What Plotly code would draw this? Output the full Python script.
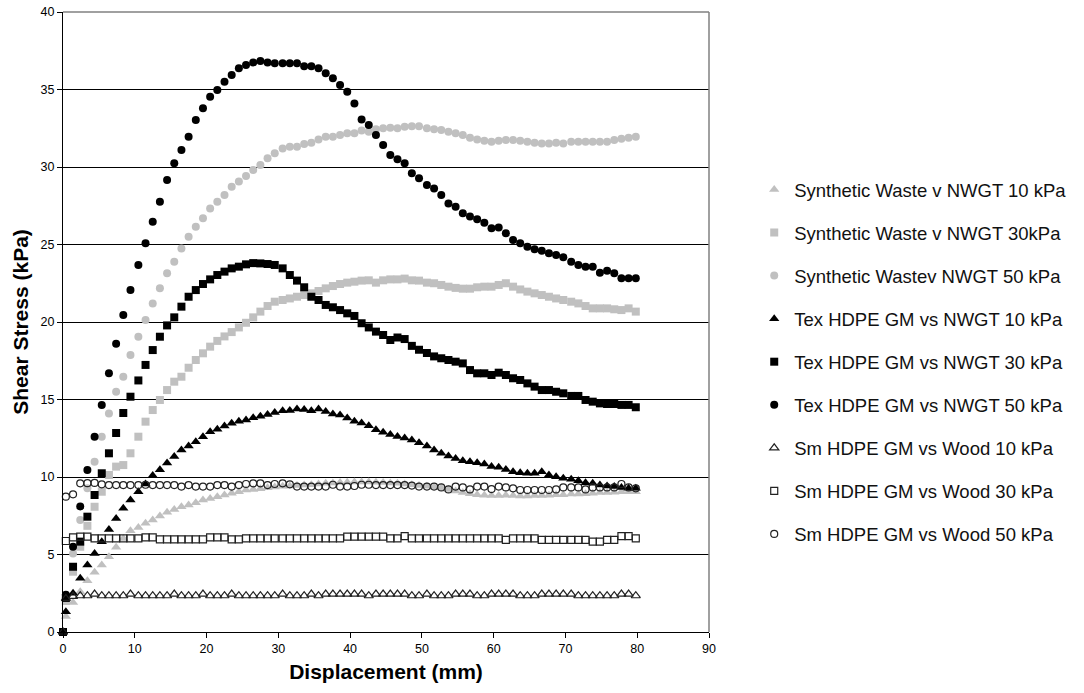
import plotly.graph_objects as go

# Displacement (mm) at each reading; first reading is the zero point
displacement = [0,
    0.4, 1.4, 2.4, 3.4, 4.4, 5.4, 6.4, 7.4, 8.4, 9.4,
    10.5, 11.5, 12.5, 13.5, 14.5, 15.5, 16.5, 17.5, 18.5, 19.5,
    20.5, 21.5, 22.5, 23.5, 24.5, 25.5, 26.5, 27.5, 28.5, 29.5,
    30.6, 31.6, 32.6, 33.6, 34.6, 35.6, 36.6, 37.6, 38.6, 39.6,
    40.6, 41.6, 42.6, 43.6, 44.6, 45.6, 46.6, 47.6, 48.6, 49.6,
    50.7, 51.7, 52.7, 53.7, 54.7, 55.7, 56.7, 57.7, 58.7, 59.7,
    60.7, 61.7, 62.7, 63.7, 64.7, 65.7, 66.7, 67.7, 68.7, 69.7,
    70.8, 71.8, 72.8, 73.8, 74.8, 75.8, 76.8, 77.8, 78.8, 79.8]

# Shear stress (kPa)
sw_nwgt_10 = [0,
    1.0, 1.9, 2.6, 3.31, 3.85, 4.32, 4.86, 5.46, 6.04, 6.54,
    6.75, 7.01, 7.23, 7.48, 7.72, 7.91, 8.08, 8.19, 8.34, 8.52,
    8.62, 8.73, 8.84, 8.95, 9.05, 9.16, 9.2, 9.25, 9.3, 9.35,
    9.4, 9.42, 9.45, 9.48, 9.5, 9.55, 9.6, 9.62, 9.65, 9.66,
    9.68, 9.68, 9.68, 9.66, 9.65, 9.62, 9.6, 9.55, 9.5, 9.45,
    9.4, 9.35, 9.3, 9.2, 9.1, 9.0, 8.92, 8.85, 8.82, 8.8,
    8.8, 8.82, 8.8, 8.78, 8.78, 8.8, 8.8, 8.82, 8.85, 8.85,
    8.9, 8.9, 8.92, 8.95, 9.0, 9.0, 9.02, 9.05, 9.05, 9.05]

sw_nwgt_30 = [0,
    2.0, 3.89, 5.5, 6.85, 8.08, 9.05, 10.13, 10.67, 10.77, 11.53,
    12.6, 13.57, 14.32, 14.97, 15.61, 16.15, 16.47, 17.05, 17.55, 17.98,
    18.41, 18.78, 19.07, 19.35, 19.65, 19.95, 20.3, 20.67, 21.03, 21.31,
    21.42, 21.52, 21.63, 21.74, 21.85, 22.0, 22.17, 22.32, 22.45, 22.54,
    22.6, 22.67, 22.69, 22.54, 22.69, 22.75, 22.75, 22.8, 22.69, 22.67,
    22.54, 22.5, 22.39, 22.28, 22.2, 22.15, 22.15, 22.24, 22.28, 22.28,
    22.39, 22.5, 22.28, 22.1, 21.96, 21.85, 21.74, 21.63, 21.52, 21.42,
    21.31, 21.2, 21.03, 20.88, 20.88, 20.88, 20.82, 20.77, 20.88, 20.67]

sw_nwgt_50 = [0,
    2.2, 5.07, 7.23, 9.27, 10.99, 12.6, 14.1, 15.5, 16.47, 17.87,
    19.05, 20.13, 21.2, 22.17, 23.14, 23.89, 24.75, 25.5, 26.15, 26.69,
    27.33, 27.76, 28.19, 28.73, 29.06, 29.42, 29.81, 30.13, 30.56, 30.88,
    31.2, 31.31, 31.31, 31.48, 31.57, 31.78, 31.95, 31.95, 32.06, 32.17,
    32.17, 32.36, 32.28, 32.43, 32.5, 32.54, 32.5, 32.6, 32.63, 32.63,
    32.5, 32.43, 32.39, 32.28, 32.17, 32.06, 31.89, 31.78, 31.7, 31.63,
    31.7, 31.74, 31.74, 31.7, 31.63, 31.57, 31.52, 31.52, 31.57, 31.52,
    31.63, 31.63, 31.63, 31.63, 31.63, 31.63, 31.74, 31.83, 31.89, 31.95]

tex_nwgt_10 = [0,
    1.3, 2.5, 3.46, 4.32, 5.07, 5.83, 6.62, 7.33, 7.98, 8.52,
    9.05, 9.55, 10.1, 10.47, 10.9, 11.33, 11.74, 12.0, 12.28, 12.6,
    12.92, 13.08, 13.29, 13.46, 13.6, 13.68, 13.82, 13.92, 14.03, 14.16,
    14.27, 14.29, 14.38, 14.35, 14.27, 14.38, 14.22, 14.06, 14.0, 13.8,
    13.6, 13.48, 13.3, 13.05, 12.89, 12.74, 12.62, 12.52, 12.39, 12.21,
    12.0, 11.74, 11.53, 11.35, 11.2, 11.05, 10.99, 10.92, 10.84, 10.67,
    10.63, 10.49, 10.34, 10.28, 10.24, 10.24, 10.34, 10.13, 10.02, 9.92,
    9.85, 9.76, 9.63, 9.59, 9.48, 9.42, 9.38, 9.33, 9.27, 9.27]

tex_nwgt_30 = [0,
    2.2, 4.21, 5.83, 7.44, 8.84, 10.24, 11.53, 12.84, 14.13, 15.18,
    16.23, 17.23, 18.19, 19.05, 19.78, 20.3, 20.99, 21.63, 22.06, 22.45,
    22.75, 23.03, 23.25, 23.46, 23.57, 23.72, 23.8, 23.78, 23.74, 23.68,
    23.46, 23.03, 22.67, 22.24, 21.63, 21.42, 21.1, 20.95, 20.77, 20.56,
    20.39, 19.92, 19.65, 19.38, 19.16, 18.84, 19.0, 18.9, 18.46, 18.21,
    18.0, 17.78, 17.66, 17.55, 17.44, 17.33, 16.9, 16.69, 16.69, 16.58,
    16.73, 16.58, 16.37, 16.26, 16.04, 15.83, 15.61, 15.61, 15.5, 15.4,
    15.23, 15.23, 14.97, 14.86, 14.75, 14.71, 14.71, 14.65, 14.65, 14.5]

tex_nwgt_50 = [None,
    2.4, 5.5, 8.1, 10.45, 12.6, 14.65, 16.7, 18.6, 20.45, 22.06,
    23.68, 25.08, 26.47, 27.76, 29.16, 30.24, 31.1, 31.95, 33.03, 33.79,
    34.54, 34.97, 35.5, 35.94, 36.37, 36.58, 36.75, 36.84, 36.75, 36.69,
    36.69, 36.69, 36.69, 36.5, 36.5, 36.37, 36.05, 35.72, 35.29, 34.86,
    34.1, 33.07, 32.71, 32.06, 31.42, 30.77, 30.5, 30.24, 29.59, 29.27,
    28.84, 28.62, 28.19, 27.65, 27.44, 27.01, 26.8, 26.63, 26.41, 26.05,
    26.09, 25.72, 25.29, 25.08, 24.86, 24.69, 24.6, 24.43, 24.32, 24.17,
    23.89, 23.68, 23.57, 23.57, 23.18, 23.31, 23.14, 22.82, 22.82, 22.82]

sm_wood_10 = [0,
    2.17, 2.3, 2.34, 2.34, 2.45, 2.34, 2.34, 2.34, 2.34, 2.45,
    2.34, 2.34, 2.34, 2.34, 2.34, 2.45, 2.34, 2.34, 2.34, 2.45,
    2.34, 2.34, 2.34, 2.45, 2.34, 2.34, 2.34, 2.34, 2.34, 2.34,
    2.45, 2.34, 2.34, 2.34, 2.45, 2.34, 2.45, 2.45, 2.45, 2.45,
    2.45, 2.45, 2.34, 2.45, 2.45, 2.45, 2.45, 2.45, 2.34, 2.34,
    2.45, 2.34, 2.34, 2.34, 2.45, 2.45, 2.45, 2.34, 2.34, 2.45,
    2.45, 2.45, 2.45, 2.34, 2.34, 2.34, 2.45, 2.45, 2.45, 2.45,
    2.45, 2.34, 2.34, 2.34, 2.34, 2.34, 2.34, 2.45, 2.45, 2.34]

sm_wood_30 = [None,
    5.87, 6.11, 6.15, 6.15, 6.04, 6.04, 6.04, 6.04, 6.04, 6.04,
    6.04, 6.11, 6.11, 5.98, 5.98, 5.98, 5.98, 5.98, 5.98, 5.98,
    6.11, 6.11, 6.11, 5.98, 5.98, 6.04, 6.04, 6.04, 6.04, 6.04,
    6.04, 6.04, 6.04, 6.04, 6.04, 6.04, 6.04, 6.04, 6.04, 6.15,
    6.15, 6.15, 6.15, 6.15, 6.15, 6.04, 6.04, 6.19, 6.04, 6.04,
    6.04, 6.04, 6.04, 6.04, 6.04, 6.04, 6.04, 6.04, 6.04, 6.04,
    6.04, 5.94, 6.04, 6.04, 6.04, 6.04, 5.94, 5.94, 5.94, 5.94,
    5.94, 5.94, 5.94, 5.83, 5.83, 5.94, 5.94, 6.19, 6.19, 6.04]

sm_wood_50 = [None,
    8.73, 8.88, 9.59, 9.6, 9.62, 9.53, 9.48, 9.48, 9.48, 9.48,
    9.48, 9.5, 9.48, 9.48, 9.48, 9.48, 9.38, 9.48, 9.38, 9.38,
    9.38, 9.48, 9.48, 9.38, 9.48, 9.55, 9.59, 9.59, 9.48, 9.55,
    9.59, 9.53, 9.38, 9.38, 9.38, 9.38, 9.38, 9.5, 9.38, 9.38,
    9.42, 9.5, 9.5, 9.48, 9.48, 9.48, 9.48, 9.48, 9.45, 9.38,
    9.38, 9.38, 9.33, 9.2, 9.38, 9.33, 9.2, 9.38, 9.38, 9.22,
    9.38, 9.33, 9.27, 9.16, 9.16, 9.16, 9.16, 9.16, 9.2, 9.33,
    9.33, 9.33, 9.2, 9.33, 9.33, 9.33, 9.33, 9.55, 9.33, 9.27]

series = [
    ("Synthetic Waste v NWGT 10 kPa", sw_nwgt_10, "triangle-up", "#c0c0c0", 9),
    ("Synthetic Waste v NWGT 30kPa", sw_nwgt_30, "square", "#c0c0c0", 8),
    ("Synthetic Wastev NWGT 50 kPa", sw_nwgt_50, "circle", "#c0c0c0", 8),
    ("Tex HDPE GM vs NWGT 10 kPa", tex_nwgt_10, "triangle-up", "#000000", 9),
    ("Tex HDPE GM vs NWGT 30 kPa", tex_nwgt_30, "square", "#000000", 8),
    ("Tex HDPE GM vs NWGT 50 kPa", tex_nwgt_50, "circle", "#000000", 8),
    ("Sm HDPE GM vs Wood 10 kPa", sm_wood_10, "triangle-up-open", "#222222", 8),
    ("Sm HDPE GM vs Wood 30 kPa", sm_wood_30, "square-open", "#222222", 7),
    ("Sm HDPE GM vs Wood 50 kPa", sm_wood_50, "circle-open", "#222222", 7),
]

FONT = "Liberation Sans, Arial, sans-serif"

fig = go.Figure()
for name, vals, symbol, color, size in series:
    marker = dict(symbol=symbol, color=color, size=size)
    if symbol.endswith("-open"):
        marker["line"] = dict(color=color, width=1.2)
    fig.add_trace(go.Scatter(
        x=displacement, y=vals, mode="markers", name=name,
        legendgroup=name, marker=marker, cliponaxis=False,
    ))

fig.update_layout(
    width=1084, height=693,
    margin=dict(l=63, r=371, t=12, b=61),
    paper_bgcolor="white", plot_bgcolor="white",
    font=dict(family=FONT, color="black"),
    showlegend=True,
    legend=dict(
        x=1.070, xanchor="left", y=0.7436, yanchor="top",
        font=dict(family=FONT, size=18.5, color="#111111"),
        traceorder="grouped", tracegroupgap=16,
        bgcolor="rgba(0,0,0,0)",
    ),
    xaxis=dict(
        range=[0, 90], tick0=0, dtick=10, showgrid=False, automargin=False,
        showline=True, linecolor="black", linewidth=1,
        ticks="outside", ticklen=5, tickcolor="black",
        tickfont=dict(size=12.5), zeroline=False,
        title=dict(text="<b>Displacement (mm)</b>", font=dict(size=21), standoff=9),
    ),
    yaxis=dict(
        range=[0, 40], tick0=0, dtick=5, automargin=False,
        showgrid=True, gridcolor="black", gridwidth=1,
        showline=True, linecolor="black", linewidth=1,
        ticks="outside", ticklen=5, tickcolor="black",
        tickfont=dict(size=12.5), zeroline=False,
        title=dict(text="<b>Shear Stress (kPa)</b>", font=dict(size=21), standoff=6),
    ),
)

# Grey plot-area frame on the top and right sides
fig.add_shape(type="line", xref="paper", yref="paper", x0=0, x1=1, y0=1, y1=1,
              line=dict(color="#808080", width=1.5))
fig.add_shape(type="line", xref="paper", yref="paper", x0=1, x1=1, y0=0, y1=1,
              line=dict(color="#808080", width=1.5))

fig.write_html("out.html")
